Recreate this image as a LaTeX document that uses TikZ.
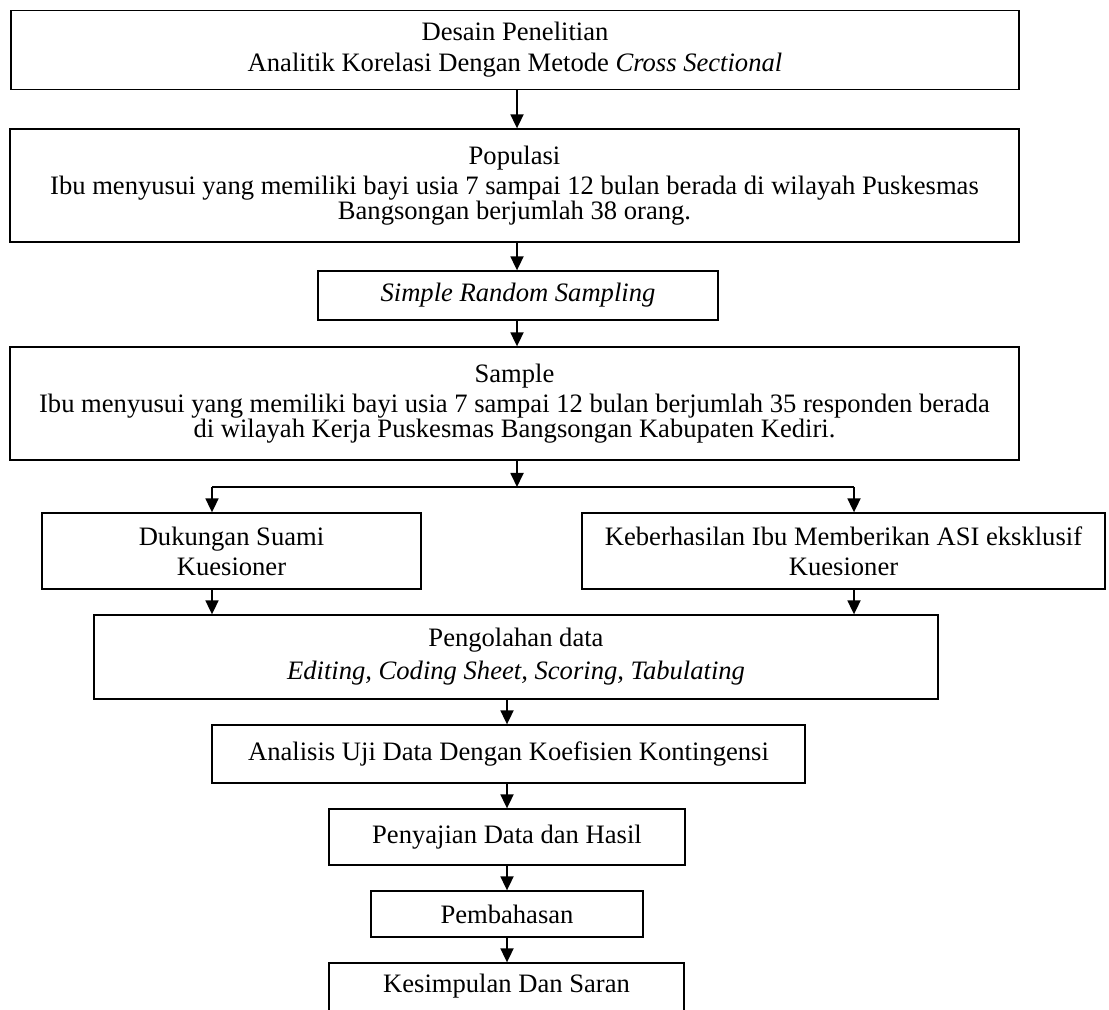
\documentclass[tikz,border=0pt]{standalone}
\usepackage{fontspec}
\setmainfont{Liberation Serif}
\usetikzlibrary{positioning, arrows.meta}
\tikzset{%
  flow box/.style={
    rectangle,
    draw,
    line width=0.65pt,
    inner sep=0pt,
    align=center,
    font=\fontsize{13.3}{12.5}\selectfont
  }
}

\begin{document}
\begin{tikzpicture}[x=0.5pt, y=-0.5pt, >={Triangle[length=7pt,width=6.5pt]}, flow/.style={->, line width=0.9pt}]
		\clip (0,0) rectangle (1109,1010);
		%% main column
		\node[flow box, minimum width=504pt, minimum height=39.5pt] (desain) at (515,50)
			{Desain Penelitian\\[3pt]Analitik Korelasi Dengan Metode \textit{Cross Sectional}};
		\node[flow box, minimum width=504.5pt, minimum height=56.5pt] (populasi) at (514.5,185.5)
			{Populasi\\[2.5pt]Ibu menyusui yang memiliki bayi usia 7 sampai 12 bulan berada di wilayah Puskesmas\\Bangsongan berjumlah 38 orang.};
		\node[flow box, minimum width=200pt, minimum height=24.5pt] (srs) at (518,295.5)
			{\textit{Simple Random Sampling}};
		\node[flow box, minimum width=504.5pt, minimum height=56.5pt] (sample) at (514.5,403.5)
			{Sample\\[2.5pt]Ibu menyusui yang memiliki bayi usia 7 sampai 12 bulan berjumlah 35 responden berada\\di wilayah Kerja Puskesmas Bangsongan Kabupaten Kediri.};
		%% variables
		\node[flow box, minimum width=189.5pt, minimum height=38pt] (dukungan) at (231.5,551)
			{Dukungan Suami\\[2.5pt]Kuesioner};
		\node[flow box, minimum width=261.5pt, minimum height=38pt] (keberhasilan) at (843.5,551)
			{Keberhasilan Ibu Memberikan ASI eksklusif\\[2.5pt]Kuesioner};
		%% analysis
		\node[flow box, minimum width=422pt, minimum height=42pt] (pengolahan) at (516,657)
			{Pengolahan data\\[4pt]\textit{Editing, Coding Sheet, Scoring, Tabulating}};
		\node[flow box, minimum width=296.5pt, minimum height=29pt] (analisis) at (508.5,754)
			{Analisis Uji Data Dengan Koefisien Kontingensi};
		\node[flow box, minimum width=178pt, minimum height=28pt] (penyajian) at (507,837)
			{Penyajian Data dan Hasil};
		\node[flow box, minimum width=136pt, minimum height=23pt] (pembahasan) at (507,914)
			{Pembahasan};
		\node[flow box, minimum width=177.5pt, minimum height=28pt, text height=9pt, text depth=8pt] (kesimpulan) at (506.5,991)
			{Kesimpulan Dan Saran};
		%% split points
		\coordinate (split) at (517,487);
		\coordinate (ldrop) at (212,487);
		\coordinate (rdrop) at (854,487);
		%% connections
		\draw[flow] (desain.south -| split) -- (populasi.north -| split);
		\draw[flow] (populasi.south -| split) -- (srs.north -| split);
		\draw[flow] (srs.south -| split) -- (sample.north -| split);
		\draw[flow] (sample.south -| split) -- (split);
		\draw[line width=0.9pt] (ldrop) -- (rdrop);
		\draw[flow] (ldrop) -- (dukungan.north -| ldrop);
		\draw[flow] (rdrop) -- (keberhasilan.north -| rdrop);
		\draw[flow] (dukungan.south -| ldrop) -- (pengolahan.north -| ldrop);
		\draw[flow] (keberhasilan.south -| rdrop) -- (pengolahan.north -| rdrop);
		\draw[flow] (pengolahan.south -| penyajian) -- (analisis.north -| penyajian);
		\draw[flow] (analisis.south -| penyajian) -- (penyajian.north);
		\draw[flow] (penyajian.south) -- (pembahasan.north);
		\draw[flow] (pembahasan.south) -- (kesimpulan.north -| pembahasan);
	\end{tikzpicture}
\end{document}
